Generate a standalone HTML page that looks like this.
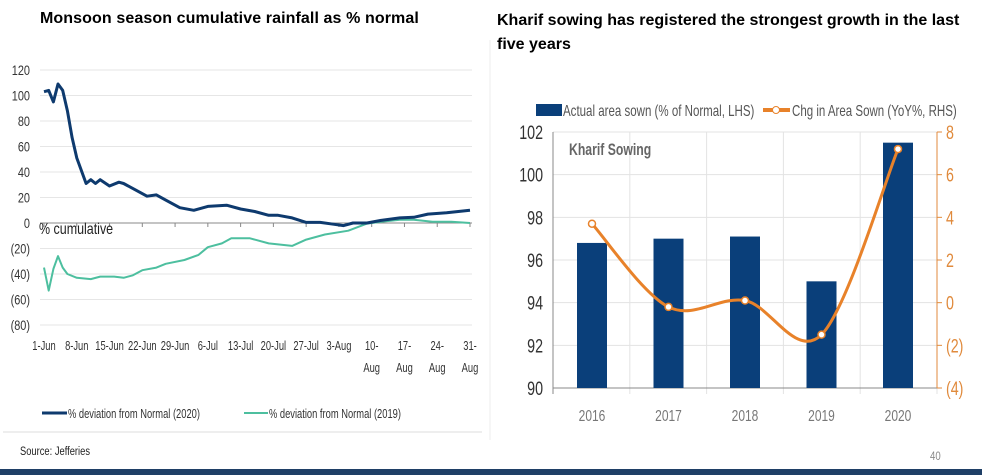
<!DOCTYPE html>
<html><head><meta charset="utf-8"><style>
body{margin:0;width:982px;height:475px;background:#fff;overflow:hidden;font-family:"Liberation Sans",sans-serif;position:relative}
.t{position:absolute;font-family:"Liberation Sans",sans-serif;font-weight:bold;font-size:16px;color:#000}
</style></head><body>
<div class="t" style="left:40px;top:10px;letter-spacing:0.1px">Monsoon season cumulative rainfall as % normal</div>
<div class="t" style="left:497px;top:9px;width:478px;line-height:24px">Kharif sowing has registered the strongest growth in the last five years</div>
<svg id="c" width="982" height="475" style="position:absolute;left:0;top:0"></svg>
<script>
const days2020=[0,1,2,3,4,5,6,7,9,10,11,12,14,16,17,20,22,24,26,29,32,35,39,42,45,48,50,53,56,59,62,64,66,69,72,76,79,82,86,91];
const vals2020=[103,104,95,109,104,88,67,51,31,34,31,34,29,32,31,25,21,22,18,12,10,13,14,11,9,6,6,4,0.5,0.5,-1,-2,0,0,2,4,4.5,7,8,10];
const days2019=[0,1,2,3,4,5,7,10,12,15,17,19,21,24,26,30,33,35,38,40,44,48,53,56,60,65,69,72,76,79,83,87,91];
const vals2019=[-35,-53,-36,-26,-35,-40,-43,-44,-42,-42,-43,-41,-37,-35,-32,-29,-25,-19,-16,-12,-12,-16,-18,-13,-9,-6,-0.5,1,2.5,2.5,1,1,0];
const leftTicks=[120,100,80,60,40,20,0,-20,-40,-60,-80];
const dateLabels=[["1-Jun"],["8-Jun"],["15-Jun"],["22-Jun"],["29-Jun"],["6-Jul"],["13-Jul"],["20-Jul"],["27-Jul"],["3-Aug"],["10-","Aug"],["17-","Aug"],["24-","Aug"],["31-","Aug"]];
const years=["2016","2017","2018","2019","2020"];
const areaSown=[96.8,97.0,97.1,95.0,101.5];
const yoyChg=[3.7,-0.2,0.1,-1.5,7.2];
const lhsTicks=[90,92,94,96,98,100,102];
const rhsTicks=[-4,-2,0,2,4,6,8];

const svg=document.getElementById('c');const NS='http://www.w3.org/2000/svg';
function mk(tag,attrs,parent){const e=document.createElementNS(NS,tag);for(const k in attrs)e.setAttribute(k,attrs[k]);(parent||svg).appendChild(e);return e;}
function txt(s,x,y,attrs,sx){const a=Object.assign({x:0,y:0,'font-size':12,fill:'#333','font-family':'"Liberation Sans",sans-serif',transform:'translate('+x+','+y+') scale('+(sx||0.78)+',1)'},attrs||{});const e=mk('text',a);e.textContent=s;return e;}
const lx=d=>44+d*(426/91), ly=v=>223-v*(153/120);
mk('line',{x1:490,y1:40,x2:490,y2:440,stroke:'#eee'});
leftTicks.forEach(v=>{
 if(v!==0){const g=mk('line',{x1:40,x2:472,y1:ly(v),y2:ly(v),stroke:'#e6e6e6'});}
 const t=txt(v<0?'('+(-v)+')':String(v),30,ly(v)+5,{'text-anchor':'end','font-size':14});
 
});
mk('line',{x1:40,x2:472,y1:ly(0),y2:ly(0),stroke:'#888'});
dateLabels.forEach((l,i)=>{const x=lx(i*7);
 mk('line',{x1:x,x2:x,y1:ly(0),y2:ly(0)+4,stroke:'#888'});
 l.forEach((s,j)=>{const t=txt(s,x,350+j*22,{'text-anchor':'middle','font-size':13},0.72);});
});
let t0=txt('% cumulative',39,234,{'font-size':16,fill:'#222'},0.78);
function path(ds,vs){return ds.map((d,i)=>(i?'L':'M')+lx(d).toFixed(1)+','+ly(vs[i]).toFixed(1)).join('');}
const p19=mk('path',{d:path(days2019,vals2019),fill:'none',stroke:'#4dbf9f','stroke-width':2,'stroke-linejoin':'round'});

const p20=mk('path',{d:path(days2020,vals2020),fill:'none',stroke:'#0e3a6e','stroke-width':3,'stroke-linejoin':'round'});

mk('line',{x1:42,x2:67,y1:413,y2:413,stroke:'#0e3a6e','stroke-width':3});
let l1=txt('% deviation from Normal (2020)',68,418,{'font-size':13},0.72);
mk('line',{x1:244,x2:268,y1:413,y2:413,stroke:'#4dbf9f','stroke-width':2});
let l2=txt('% deviation from Normal (2019)',269,418,{'font-size':13},0.72);
mk('line',{x1:3,x2:482,y1:432,y2:432,stroke:'#eee','stroke-width':2});
const X0=553,X1=937,by=v=>388-(v-90)*(256/12),ry=v=>388-(v+4)*(256/12),bx=i=>592+i*76.5;
lhsTicks.forEach(v=>{
 if(v>90){const g=mk('line',{x1:X0,x2:X1,y1:by(v),y2:by(v),stroke:'#e3e3e3'});}
 const t=txt(String(v),543,by(v)+7,{'text-anchor':'end','font-size':19,fill:'#333'},0.75);
});
[0,1,2,3,4,5].forEach(i=>{const x=X0+i*76.8;mk('line',{x1:x,x2:x,y1:132,y2:394,stroke:i?'#e3e3e3':'#888'});});
mk('line',{x1:X0,x2:X1,y1:388,y2:388,stroke:'#888'});
mk('line',{x1:X1,x2:X1,y1:132,y2:388,stroke:'#e08a3c'});
rhsTicks.forEach(v=>{mk('line',{x1:X1,x2:X1+5,y1:ry(v),y2:ry(v),stroke:'#e08a3c'});
 const t=txt(v<0?'('+(-v)+')':String(v),946,ry(v)+7,{'font-size':19,fill:'#e08a3c'},0.75);});
years.forEach((y,i)=>{
 const b=mk('rect',{x:bx(i)-15,y:by(areaSown[i]),width:30,height:388-by(areaSown[i]),fill:'#0a3f7a'});
 
 const t=txt(y,bx(i),421,{'text-anchor':'middle','font-size':16,fill:'#777'},0.75);
});
const pts=yoyChg.map((v,i)=>[bx(i),ry(v)]);
let d='M'+pts[0][0]+','+pts[0][1];
for(let i=0;i<pts.length-1;i++){const p0=pts[Math.max(0,i-1)],p1=pts[i],p2=pts[i+1],p3=pts[Math.min(pts.length-1,i+2)];
 d+='C'+(p1[0]+(p2[0]-p0[0])/6)+','+(p1[1]+(p2[1]-p0[1])/6)+' '+(p2[0]-(p3[0]-p1[0])/6)+','+(p2[1]-(p3[1]-p1[1])/6)+' '+p2[0]+','+p2[1];}
const lp=mk('path',{d:d,fill:'none',stroke:'#e8822a','stroke-width':3});
pts.forEach(p=>{const c=mk('circle',{cx:p[0],cy:p[1],r:3.5,fill:'#fff',stroke:'#e8822a','stroke-width':1.5});});
let k=txt('Kharif Sowing',569,155,{'font-size':17,fill:'#666','font-weight':'bold'},0.72);
mk('rect',{x:536,y:104,width:26,height:12,fill:'#0a3f7a'});
let lg1=txt('Actual area sown (% of Normal, LHS)',563,116,{'font-size':16,fill:'#555'},0.72);
mk('line',{x1:763,x2:790,y1:110,y2:110,stroke:'#e8822a','stroke-width':4});
mk('circle',{cx:776,cy:110,r:3.5,fill:'#fff',stroke:'#e8822a'});
let lg2=txt('Chg in Area Sown (YoY%, RHS)',792,116,{'font-size':16,fill:'#555'},0.72);
let s=txt('Source:  Jefferies',20,455,{'font-size':12,fill:'#222'},0.78);
let pn=txt('40',930,460,{'font-size':12,fill:'#888'},0.8);
mk('rect',{x:0,y:469,width:982,height:6,fill:'#1f3f66'});
</script>
</body></html>
